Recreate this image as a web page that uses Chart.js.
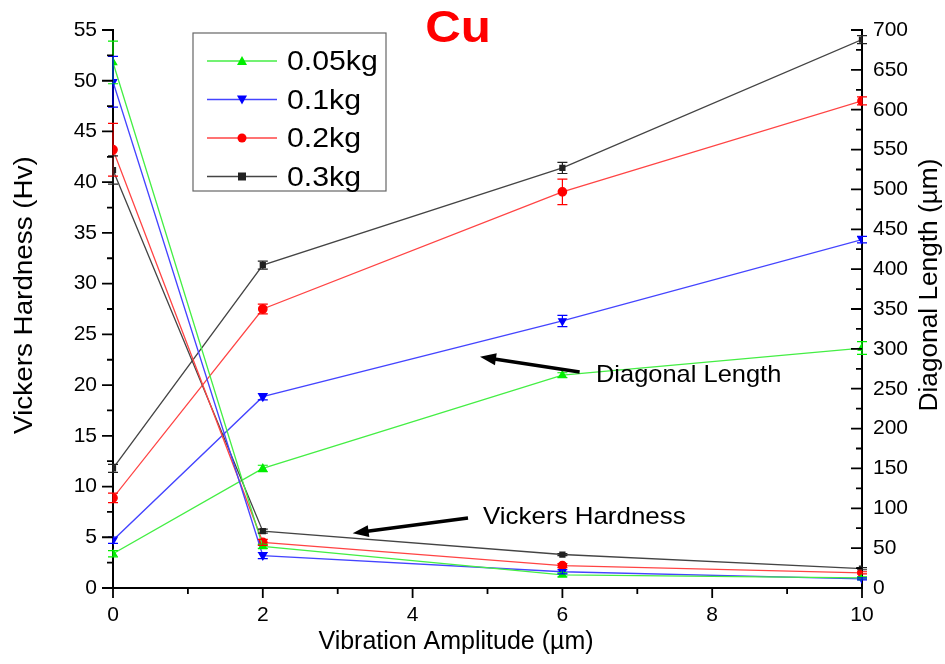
<html>
<head>
    <title>Cu hardness vs vibration amplitude</title>
    <script src="https://cdn.jsdelivr.net/npm/chart.js"></script>
    <style>
        body { margin: 0; background: #fff; }
        #wrap { width: 945px; height: 664px; }
    </style>
</head>
<body>
    <div id="wrap"><canvas id="cuChart" width="945" height="664"></canvas></div>

    <script>
        // vibration amplitude (um)
        const amplitude = [0, 2, 6, 10];
        const loads = ['0.05kg', '0.1kg', '0.2kg', '0.3kg'];

        // Vickers hardness (Hv), left axis
        const hv005 = [51.8, 4.1, 1.3, 1.0];
        const hv01  = [49.9, 3.2, 1.6, 0.9];
        const hv02  = [43.2, 4.5, 2.2, 1.5];
        const hv03  = [41.2, 5.6, 3.3, 1.9];
        const hvErr005 = [2.1, 0.2, 0.2, 0.1];
        const hvErr01  = [2.5, 0.3, 0.2, 0.1];
        const hvErr02  = [2.6, 0.3, 0.2, 0.1];
        const hvErr03  = [1.4, 0.2, 0.1, 0.1];

        // diagonal length (um), right axis
        const dl005 = [43, 150, 267, 301];
        const dl01  = [60, 240, 335, 437];
        const dl02  = [113, 350, 497, 611];
        const dl03  = [150, 405, 527, 688];
        const dlErr005 = [4, 4, 3, 8];
        const dlErr01  = [4, 4, 7, 4];
        const dlErr02  = [6, 6, 16, 5];
        const dlErr03  = [5, 5, 7, 5];

        const xTicks = [0, 2, 4, 6, 8, 10];
        const hvTicks = [0, 5, 10, 15, 20, 25, 30, 35, 40, 45, 50, 55];
        const dlTicks = [0, 50, 100, 150, 200, 250, 300, 350, 400, 450, 500, 550, 600, 650, 700];

        const colors = ['#00ee00', '#0000ff', '#ff0000', '#222222'];
        const lineColors = ['#44ee44', '#4444ff', '#ff4444', '#444444'];
        const shapes = ['triangle', 'triangle', 'circle', 'rect'];
        const rotations = [0, 180, 0, 0];

        const hvSeries = [hv005, hv01, hv02, hv03];
        const hvErrs = [hvErr005, hvErr01, hvErr02, hvErr03];
        const dlSeries = [dl005, dl01, dl02, dl03];
        const dlErrs = [dlErr005, dlErr01, dlErr02, dlErr03];

        const FONT = '"Liberation Sans", Arial, sans-serif';

        function makeSet(vals, errs, i, axis) {
            return {
                label: loads[i],
                data: amplitude.map((x, k) => ({ x: x, y: vals[k] })),
                errors: errs,
                yAxisID: axis,
                borderColor: lineColors[i],
                backgroundColor: colors[i],
                pointBorderColor: colors[i],
                borderWidth: 1.3,
                pointStyle: shapes[i],
                rotation: rotations[i],
                pointRadius: shapes[i] === 'rect' ? 3.5 : 4.2,
                tension: 0
            };
        }

        const datasets = [];
        for (let i = 0; i < 4; i++) datasets.push(makeSet(hvSeries[i], hvErrs[i], i, 'y'));
        for (let i = 0; i < 4; i++) datasets.push(makeSet(dlSeries[i], dlErrs[i], i, 'y1'));

        // error bars with caps
        const errorBars = {
            id: 'errorBars',
            afterDatasetsDraw(chart) {
                const ctx = chart.ctx;
                const xs = chart.scales.x;
                chart.data.datasets.forEach(ds => {
                    const ys = chart.scales[ds.yAxisID];
                    ctx.save();
                    ctx.strokeStyle = ds.backgroundColor;
                    ctx.lineWidth = 1.2;
                    ds.data.forEach((p, k) => {
                        const e = ds.errors[k];
                        const px = xs.getPixelForValue(p.x);
                        const top = ys.getPixelForValue(p.y + e);
                        const bot = ys.getPixelForValue(p.y - e);
                        ctx.beginPath();
                        ctx.moveTo(px, top); ctx.lineTo(px, bot);
                        ctx.moveTo(px - 5, top); ctx.lineTo(px + 5, top);
                        ctx.moveTo(px - 5, bot); ctx.lineTo(px + 5, bot);
                        ctx.stroke();
                    });
                    ctx.restore();
                });
            }
        };

        function drawMarker(ctx, i, x, y) {
            ctx.fillStyle = colors[i];
            ctx.beginPath();
            if (i === 0) { ctx.moveTo(x, y - 5); ctx.lineTo(x + 5, y + 4); ctx.lineTo(x - 5, y + 4); }
            else if (i === 1) { ctx.moveTo(x, y + 5); ctx.lineTo(x + 5, y - 4); ctx.lineTo(x - 5, y - 4); }
            else if (i === 2) { ctx.arc(x, y, 4.5, 0, Math.PI * 2); }
            else { ctx.rect(x - 4, y - 4, 8, 8); }
            ctx.fill();
        }

        // text a little wider than the font's own proportions, optionally rotated
        function wideText(ctx, text, x, y, sx, angle) {
            ctx.save();
            ctx.translate(x, y);
            if (angle) ctx.rotate(angle);
            ctx.scale(sx, 1);
            ctx.fillText(text, 0, 0);
            ctx.restore();
        }

        function arrow(ctx, x1, y1, x2, y2) {
            const a = Math.atan2(y2 - y1, x2 - x1);
            const head = 16;
            ctx.strokeStyle = '#000';
            ctx.fillStyle = '#000';
            ctx.lineWidth = 3.5;
            ctx.beginPath();
            ctx.moveTo(x1, y1);
            ctx.lineTo(x2 - Math.cos(a) * head * 0.8, y2 - Math.sin(a) * head * 0.8);
            ctx.stroke();
            ctx.beginPath();
            ctx.moveTo(x2, y2);
            ctx.lineTo(x2 - head * Math.cos(a) + 6 * Math.sin(a), y2 - head * Math.sin(a) - 6 * Math.cos(a));
            ctx.lineTo(x2 - head * Math.cos(a) - 6 * Math.sin(a), y2 - head * Math.sin(a) + 6 * Math.cos(a));
            ctx.closePath();
            ctx.fill();
        }

        // axes ticks (major + minor), axis titles, title, legend box and arrow notes
        const decorations = {
            id: 'decorations',
            afterDraw(chart) {
                const ctx = chart.ctx;
                const xs = chart.scales.x, ys = chart.scales.y, ys1 = chart.scales.y1;
                const area = chart.chartArea;
                ctx.save();
                ctx.strokeStyle = '#000';
                ctx.lineWidth = 1.8;
                ctx.beginPath();
                for (let v = 0; v <= 10; v += 1) {
                    const px = xs.getPixelForValue(v);
                    ctx.moveTo(px, area.bottom);
                    ctx.lineTo(px, area.bottom + (v % 2 === 0 ? 10 : 6));
                }
                for (let v = 0; v <= 55; v += 2.5) {
                    const py = ys.getPixelForValue(v);
                    ctx.moveTo(area.left, py);
                    ctx.lineTo(area.left - (v % 5 === 0 ? 11 : 6), py);
                }
                for (let v = 0; v <= 700; v += 25) {
                    const py = ys1.getPixelForValue(v);
                    ctx.moveTo(area.right, py);
                    ctx.lineTo(area.right - (v % 50 === 0 ? 11 : 6), py);
                }
                ctx.stroke();

                // axis titles
                ctx.fillStyle = '#000';
                ctx.textAlign = 'center';
                ctx.textBaseline = 'middle';
                ctx.font = '25px ' + FONT;
                wideText(ctx, 'Vibration Amplitude (µm)', 456, 642, 1.0);
                ctx.font = '26px ' + FONT;
                wideText(ctx, 'Vickers Hardness (Hv)', 25, 295, 1.07, -Math.PI / 2);
                ctx.font = '25px ' + FONT;
                wideText(ctx, 'Diagonal Length (µm)', 930, 285, 1.05, -Math.PI / 2);

                // title
                ctx.fillStyle = '#ff0000';
                ctx.font = 'bold 44px ' + FONT;
                wideText(ctx, 'Cu', 458, 30, 1.12);

                // legend
                ctx.strokeStyle = '#666';
                ctx.lineWidth = 1.2;
                ctx.strokeRect(193, 33, 193, 158);
                ctx.font = '27px ' + FONT;
                ctx.textAlign = 'left';
                for (let i = 0; i < 4; i++) {
                    const y = 61 + i * 38.5;
                    ctx.strokeStyle = lineColors[i];
                    ctx.lineWidth = 1.3;
                    ctx.beginPath();
                    ctx.moveTo(207, y); ctx.lineTo(277, y);
                    ctx.stroke();
                    drawMarker(ctx, i, 242, y);
                    ctx.fillStyle = '#000';
                    wideText(ctx, loads[i], 287, y + 2, 1.12);
                }

                // notes
                ctx.font = '24px ' + FONT;
                ctx.fillStyle = '#000';
                wideText(ctx, 'Diagonal Length', 596, 375, 1.06);
                wideText(ctx, 'Vickers Hardness', 483, 517, 1.08);
                arrow(ctx, xs.getPixelForValue(6.23), ys1.getPixelForValue(271),
                    xs.getPixelForValue(4.9), ys1.getPixelForValue(290));
                arrow(ctx, xs.getPixelForValue(4.74), ys.getPixelForValue(6.9),
                    xs.getPixelForValue(3.2), ys.getPixelForValue(5.4));
                ctx.restore();
            }
        };

        const tickFont = { family: FONT, size: 21 };

        new Chart(document.getElementById('cuChart').getContext('2d'), {
            type: 'line',
            data: { datasets },
            options: {
                responsive: false,
                animation: false,
                layout: { padding: { top: 30, left: 0, right: 0, bottom: 0 } },
                plugins: { legend: { display: false }, tooltip: { enabled: false } },
                scales: {
                    x: {
                        type: 'linear', min: 0, max: 10,
                        afterBuildTicks: s => { s.ticks = xTicks.map(v => ({ value: v })); },
                        afterFit: s => { s.height = 76; },
                        grid: { display: false, tickLength: 8 },
                        border: { color: '#000', width: 2 },
                        ticks: { color: '#000', font: tickFont, padding: 7, maxRotation: 0 }
                    },
                    y: {
                        position: 'left', min: 0, max: 55,
                        afterBuildTicks: s => { s.ticks = hvTicks.map(v => ({ value: v })); },
                        afterFit: s => { s.width = 113; },
                        grid: { display: false, tickLength: 8 },
                        border: { color: '#000', width: 2 },
                        ticks: { color: '#000', font: tickFont, padding: 8 }
                    },
                    y1: {
                        position: 'right', min: 0, max: 700,
                        afterBuildTicks: s => { s.ticks = dlTicks.map(v => ({ value: v })); },
                        afterFit: s => { s.width = 83; },
                        grid: { display: false, tickLength: 8 },
                        border: { color: '#000', width: 2 },
                        ticks: { color: '#000', font: tickFont, padding: 3 }
                    }
                }
            },
            plugins: [errorBars, decorations]
        });
    </script>
</body>
</html>
